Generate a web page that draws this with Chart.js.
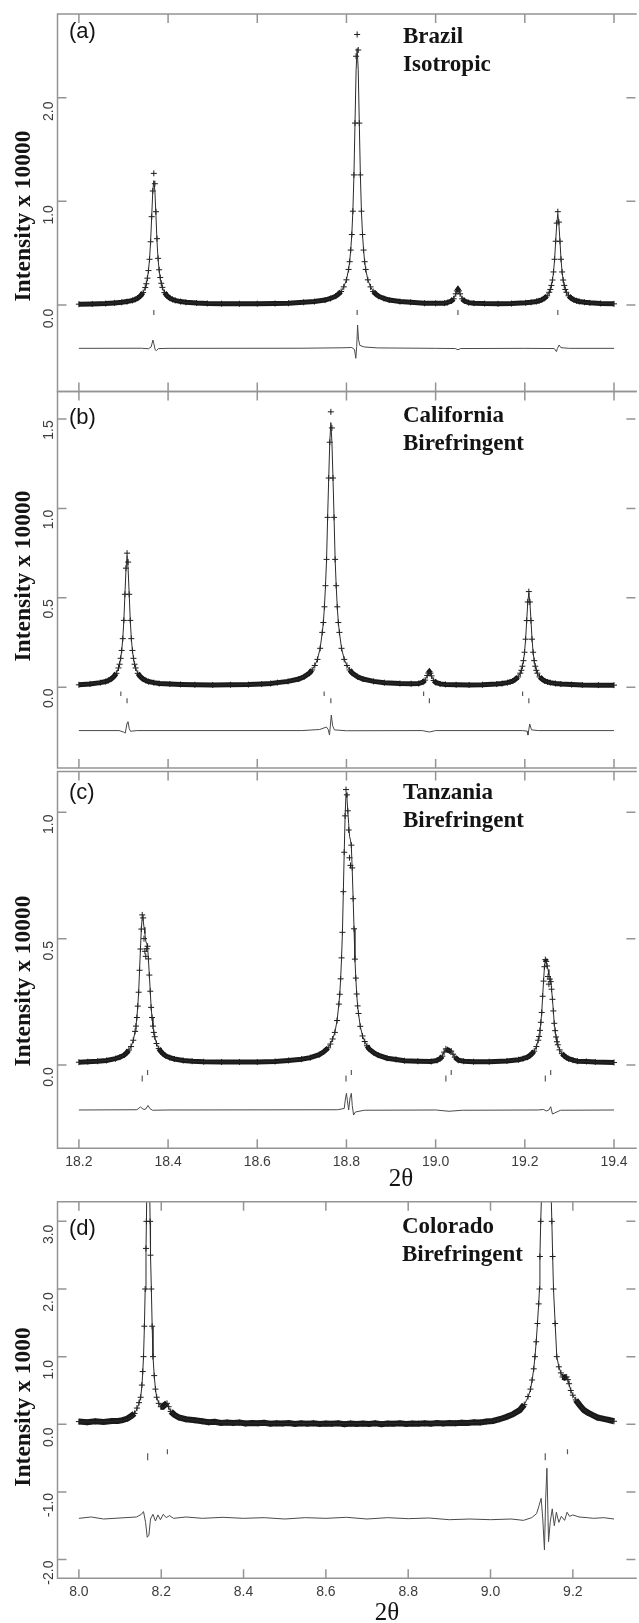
<!DOCTYPE html>
<html><head><meta charset="utf-8">
<script src="https://cdn.jsdelivr.net/npm/chart.js@4.4.1/dist/chart.umd.min.js"></script>
<style>
html,body{margin:0;padding:0;background:#fff;}
#wrap{position:relative;width:639px;height:1623px;overflow:hidden;background:#fff;}
canvas{position:absolute;left:0;top:0;}
</style></head><body>
<div id="wrap">
<canvas id="cA" width="639" height="1623"></canvas>
<canvas id="cB" width="639" height="1623"></canvas>
<canvas id="cC" width="639" height="1623"></canvas>
<canvas id="cD" width="639" height="1623"></canvas>
</div>
<script>
// ---------- Panel (a) Brazil ----------
const xA = [18.200,18.230,18.260,18.280,18.296,18.308,18.320,18.326,18.332,18.338,
18.344,18.3488,18.3512,18.3536,18.356,18.3584,18.3608,18.3632,18.3656,18.368,
18.3704,18.3728,18.3752,18.3776,18.380,18.3824,18.3848,18.3872,18.392,18.398,
18.404,18.410,18.416,18.428,18.440,18.464,18.488,18.520,18.560,18.600,
18.640,18.670,18.704,18.728,18.752,18.764,18.776,18.782,18.788,18.794,
18.800,18.8048,18.8072,18.8096,18.812,18.8144,18.8168,18.8192,18.8216,18.824,
18.8264,18.8288,18.8312,18.8336,18.836,18.8384,18.8408,18.8432,18.848,18.854,
18.860,18.866,18.872,18.884,18.896,18.920,18.944,18.975,19.000,19.020,
19.026,19.0356,19.0404,19.0452,19.0476,19.050,19.0524,19.0548,19.0596,19.0644,
19.074,19.086,19.110,19.140,19.170,19.202,19.214,19.226,19.232,19.238,
19.244,19.250,19.2548,19.2572,19.2596,19.262,19.2644,19.2668,19.2692,19.2716,
19.274,19.2764,19.2788,19.2812,19.2836,19.286,19.2884,19.2908,19.2932,19.298,
19.304,19.310,19.316,19.322,19.334,19.346,19.370,19.400];
const obsA = [.008,.010,.014,.020,.026,.033,.044,.053,.066,.087,
.120,.168,.205,.259,.332,.441,.610,.852,1.10,1.27,
1.17,.90,.64,.45,.34,.265,.21,.17,.120,.087,
.066,.053,.044,.033,.026,.019,.015,.013,.012,.013,
.014,.017,.026,.033,.048,.063,.085,.105,.130,.175,
.243,.343,.418,.53,.68,.905,1.255,1.755,2.40,2.61,
2.46,1.755,1.255,.905,.68,.53,.418,.343,.243,.175,
.130,.105,.085,.063,.048,.033,.026,.017,.016,.018,
.023,.039,.060,.108,.136,.150,.136,.108,.060,.039,
.023,.018,.014,.012,.014,.021,.026,.034,.041,.050,
.065,.089,.123,.150,.189,.241,.319,.441,.615,.79,
.90,.80,.615,.441,.319,.241,.189,.150,.123,.089,
.065,.050,.041,.034,.026,.021,.015,.011];
const calcA = [.008,.010,.014,.020,.026,.033,.044,.053,.066,.087,
.120,.168,.205,.259,.332,.441,.610,.85,1.09,1.20,
1.10,.86,.61,.44,.332,.259,.205,.168,.120,.087,
.066,.053,.044,.033,.026,.019,.015,.013,.012,.013,
.014,.017,.026,.033,.048,.063,.085,.105,.130,.175,
.243,.343,.418,.53,.68,.905,1.255,1.76,2.26,2.475,
2.27,1.76,1.255,.905,.68,.53,.418,.343,.243,.175,
.130,.105,.085,.063,.048,.033,.026,.017,.016,.018,
.023,.039,.060,.108,.136,.148,.136,.108,.060,.039,
.023,.018,.014,.012,.014,.021,.026,.034,.041,.050,
.065,.089,.123,.150,.189,.241,.319,.441,.615,.785,
.875,.785,.615,.441,.319,.241,.189,.150,.123,.089,
.065,.050,.041,.034,.026,.021,.015,.011];
const diffXA = [18.200,18.340,18.356,18.362,18.366,18.368,18.371,18.374,18.378,18.400,
18.700,18.790,18.812,18.818,18.821,18.823,18.825,18.827,18.830,18.840,18.870,
19.000,19.044,19.050,19.056,
19.200,19.266,19.271,19.273,19.277,19.281,19.300,19.400];
const diffA = [-0.418,-0.417,-0.422,-0.405,-0.338,-0.372,-0.432,-0.44,-0.421,-0.418,
-0.417,-0.413,-0.41,-0.43,-0.514,-0.40,-0.193,-0.33,-0.39,-0.405,-0.414,
-0.418,-0.42,-0.432,-0.42,
-0.418,-0.42,-0.45,-0.42,-0.386,-0.412,-0.418,-0.418];
const reflA = [18.368,18.824,19.050,19.274];
const reflLevelA = -0.072;

// ---------- Panel (b) California ----------
const xB = [18.200,18.225,18.248,18.260,18.266,18.272,18.278,18.284,18.2888,18.2912,
18.2936,18.296,18.2984,18.3008,18.3032,18.3056,18.308,18.3104,18.3128,18.3152,
18.3176,18.320,18.3224,18.3248,18.3272,18.332,18.338,18.344,18.350,18.356,
18.368,18.380,18.404,18.428,18.460,18.500,18.540,18.580,18.610,18.630,
18.645,18.669,18.693,18.705,18.717,18.723,18.729,18.735,18.741,18.7458,
18.7482,18.7506,18.753,18.7554,18.7578,18.7602,18.7626,18.765,18.7674,18.7698,
18.7722,18.7746,18.777,18.7794,18.7818,18.7842,18.789,18.795,18.801,18.807,
18.813,18.825,18.837,18.861,18.885,18.920,18.945,18.962,18.9716,18.9764,
18.9812,18.9836,18.986,18.9884,18.9908,18.9956,19.0004,19.010,19.022,19.046,
19.075,19.105,19.137,19.149,19.161,19.167,19.173,19.179,19.185,19.1898,
19.1922,19.1946,19.197,19.1994,19.2018,19.2042,19.2066,19.209,19.2114,19.2138,
19.2162,19.2186,19.221,19.2234,19.2258,19.2282,19.233,19.239,19.245,19.251,
19.257,19.269,19.281,19.305,19.329,19.365,19.400];
const obsB = [.014,.019,.026,.032,.038,.046,.059,.078,.108,.129,
.162,.206,.272,.374,.52,.666,.75,.70,.52,.374,
.272,.206,.162,.129,.108,.078,.059,.046,.038,.032,
.026,.021,.018,.016,.014,.013,.014,.015,.018,.021,
.026,.033,.046,.059,.079,.097,.122,.156,.218,.307,
.362,.45,.568,.715,.95,1.17,1.37,1.54,1.45,1.17,
.95,.715,.568,.45,.362,.307,.218,.156,.122,.097,
.079,.059,.046,.033,.026,.021,.020,.021,.029,.040,
.066,.080,.087,.079,.064,.038,.027,.019,.016,.014,
.013,.014,.018,.021,.026,.030,.035,.045,.058,.079,
.095,.118,.149,.196,.269,.373,.477,.535,.477,.373,
.269,.196,.149,.118,.095,.079,.058,.045,.035,.030,
.026,.021,.018,.015,.013,.012,.012];
const calcB = [.014,.019,.026,.032,.038,.046,.059,.078,.108,.129,
.162,.206,.272,.374,.52,.66,.735,.66,.52,.374,
.272,.206,.162,.129,.108,.078,.059,.046,.038,.032,
.026,.021,.018,.016,.014,.013,.014,.015,.018,.021,
.026,.033,.046,.059,.079,.097,.122,.156,.218,.307,
.362,.45,.568,.715,.95,1.17,1.37,1.48,1.37,1.17,
.95,.715,.568,.45,.362,.307,.218,.156,.122,.097,
.079,.059,.046,.033,.026,.021,.020,.021,.029,.040,
.066,.080,.085,.079,.064,.038,.027,.019,.016,.014,
.013,.014,.018,.021,.026,.030,.035,.045,.058,.079,
.095,.118,.149,.196,.269,.373,.475,.528,.475,.373,
.269,.196,.149,.118,.095,.079,.058,.045,.035,.030,
.026,.021,.018,.015,.013,.012,.012];
const diffXB = [18.200,18.290,18.300,18.304,18.308,18.310,18.313,18.316,18.330,
18.700,18.740,18.755,18.759,18.762,18.766,18.769,18.773,18.800,
18.970,18.986,19.000,
19.195,19.205,19.207,19.211,19.215,19.230,19.400];
const diffB = [-0.242,-0.242,-0.25,-0.256,-0.20,-0.192,-0.232,-0.246,-0.242,
-0.242,-0.236,-0.222,-0.235,-0.267,-0.155,-0.215,-0.238,-0.243,
-0.242,-0.25,-0.242,
-0.242,-0.245,-0.267,-0.205,-0.238,-0.242,-0.242];
const reflB1 = [18.294,18.750,18.973,19.195];
const reflLevelB1 = -0.036;
const reflB2 = [18.308,18.765,18.986,19.209];
const reflLevelB2 = -0.075;

// ---------- Panel (c) Tanzania ----------
const xC = [18.200,18.220,18.242,18.262,18.282,18.292,18.302,18.307,18.312,18.317,
18.322,18.326,18.328,18.330,18.332,18.334,18.336,18.338,18.340,18.342,
18.344,18.346,18.348,18.350,18.352,18.354,18.356,18.358,18.360,18.362,
18.364,18.366,18.368,18.370,18.374,18.379,18.384,18.389,18.394,18.404,
18.414,18.434,18.454,18.480,18.520,18.560,18.600,18.640,18.670,18.699,
18.719,18.739,18.749,18.759,18.764,18.769,18.774,18.779,18.783,18.785,
18.787,18.789,18.791,18.793,18.795,18.797,18.799,18.801,18.803,18.805,
18.807,18.809,18.811,18.813,18.815,18.817,18.819,18.821,18.823,18.825,
18.827,18.831,18.836,18.841,18.846,18.851,18.861,18.871,18.891,18.911,
18.930,18.960,18.990,19.003,19.011,19.015,19.019,19.023,19.027,19.031,
19.035,19.039,19.043,19.051,19.063,19.085,19.120,19.160,19.186,19.196,
19.206,19.211,19.216,19.221,19.226,19.230,19.232,19.234,19.236,19.238,
19.240,19.242,19.244,19.246,19.248,19.250,19.252,19.254,19.256,19.258,
19.260,19.262,19.264,19.266,19.268,19.270,19.272,19.274,19.278,19.283,
19.288,19.293,19.298,19.308,19.318,19.338,19.358,19.400];
const obsC = [.011,.013,.015,.018,.025,.031,.040,.048,.059,.073,
.098,.133,.154,.188,.233,.288,.375,.459,.538,.594,
.582,.50,.45,.43,.46,.47,.42,.356,.292,.228,
.188,.154,.129,.112,.085,.065,.053,.044,.037,.029,
.024,.018,.015,.013,.012,.012,.012,.014,.018,.023,
.029,.041,.052,.068,.083,.103,.129,.176,.241,.280,
.341,.424,.525,.686,.842,.986,1.09,1.069,1.006,.93,
.82,.79,.87,.78,.658,.539,.419,.344,.281,.234,
.204,.153,.115,.093,.076,.063,.049,.039,.027,.022,
.017,.015,.014,.018,.026,.035,.051,.064,.060,.056,
.055,.043,.031,.019,.015,.013,.013,.016,.021,.025,
.031,.037,.045,.055,.073,.098,.113,.137,.169,.208,
.272,.332,.389,.417,.41,.392,.35,.32,.34,.33,
.30,.26,.214,.165,.136,.111,.092,.080,.060,.045,
.037,.030,.025,.019,.015,.014,.012,.010];
const calcC = [.011,.013,.015,.018,.025,.031,.040,.048,.059,.073,
.098,.133,.154,.188,.233,.288,.375,.459,.538,.585,
.575,.545,.52,.49,.48,.47,.415,.356,.292,.228,
.188,.154,.129,.112,.085,.065,.053,.044,.037,.029,
.024,.018,.015,.013,.012,.012,.012,.014,.018,.023,
.029,.041,.052,.068,.083,.103,.129,.176,.241,.280,
.341,.424,.525,.686,.842,.986,1.075,1.06,1.006,.955,
.905,.89,.865,.77,.658,.539,.419,.344,.281,.234,
.204,.153,.115,.093,.076,.063,.049,.039,.027,.022,
.017,.015,.014,.018,.026,.035,.051,.064,.060,.056,
.055,.043,.031,.019,.015,.013,.013,.016,.021,.025,
.031,.037,.045,.055,.073,.098,.113,.137,.169,.208,
.272,.332,.389,.41,.41,.392,.378,.356,.352,.345,
.30,.26,.214,.165,.136,.111,.092,.080,.060,.045,
.037,.030,.025,.019,.015,.014,.012,.010];
const diffXC = [18.200,18.330,18.338,18.342,18.346,18.350,18.355,18.359,18.365,18.400,
18.780,18.795,18.798,18.800,18.802,18.805,18.808,18.811,18.813,18.816,18.820,18.840,
19.000,19.030,19.060,
19.230,19.242,19.248,19.254,19.258,19.262,19.280,19.400];
const diffC = [-0.178,-0.177,-0.166,-0.172,-0.176,-0.174,-0.160,-0.172,-0.179,-0.178,
-0.177,-0.172,-0.13,-0.112,-0.14,-0.178,-0.13,-0.112,-0.16,-0.198,-0.186,-0.179,
-0.178,-0.183,-0.179,
-0.178,-0.176,-0.182,-0.178,-0.165,-0.194,-0.179,-0.178];
const reflC1 = [18.342,18.799,19.023,19.246];
const reflLevelC1 = -0.053;
const reflC2 = [18.354,18.811,19.035,19.258];
const reflLevelC2 = -0.030;

// ---------- Panel (d) Colorado ----------
const xD = [8.000,8.020,8.040,8.060,8.080,8.095,8.106,8.118,8.128,8.135,
8.141,8.146,8.150,8.153,8.155,8.157,8.159,8.161,8.163,8.164,
8.166,8.168,8.171,8.173,8.174,8.176,8.178,8.180,8.183,8.186,
8.189,8.194,8.199,8.204,8.209,8.214,8.218,8.223,8.232,8.243,
8.260,8.282,8.300,8.315,8.330,8.345,8.360,8.375,8.390,8.405,
8.420,8.435,8.450,8.465,8.480,8.495,8.510,8.525,8.540,8.555,
8.570,8.585,8.600,8.615,8.630,8.645,8.660,8.675,8.690,8.705,
8.720,8.735,8.750,8.765,8.780,8.795,8.810,8.825,8.840,8.855,
8.870,8.885,8.900,8.915,8.930,8.945,8.960,8.975,8.990,9.006,
9.022,9.039,9.055,9.071,9.082,9.091,9.097,9.101,9.105,9.108,
9.111,9.114,9.117,9.119,9.120,9.122,9.125,9.130,9.135,9.140,
9.145,9.149,9.151,9.153,9.157,9.161,9.166,9.171,9.175,9.180,
9.185,9.188,9.191,9.195,9.200,9.207,9.217,9.227,9.237,9.247,
9.260,9.275,9.288,9.300];
const obsD = [.040,.030,.045,.034,.050,.048,.062,.085,.125,.160,
.240,.320,.400,.580,.780,1.00,1.45,2.00,2.60,3.00,
3.80,4.30,3.80,3.00,2.50,2.00,1.45,1.00,.72,.52,
.40,.31,.26,.26,.29,.31,.26,.19,.14,.10,
.075,.060,.045,.030,.036,.020,.028,.018,.026,.012,
.020,.014,.022,.008,.016,.012,.018,.006,.014,.010,
.016,.004,.012,.008,.014,.002,.012,.006,.010,.004,
.014,.002,.010,.008,.014,.004,.012,.010,.016,.008,
.018,.012,.020,.016,.024,.020,.030,.028,.040,.050,
.075,.110,.150,.210,.290,.410,.520,.655,.820,1.00,
1.22,1.49,1.78,2.00,2.48,3.00,3.60,4.30,4.60,4.40,
3.80,3.00,2.48,2.00,1.49,1.00,.85,.76,.70,.69,
.70,.66,.60,.50,.43,.36,.28,.21,.17,.14,
.10,.080,.064,.045];
const calcD = [.035,.036,.038,.040,.045,.050,.058,.075,.105,.150,
.230,.310,.400,.560,.760,1.00,1.42,1.98,2.60,3.00,
3.90,4.50,3.90,3.00,2.50,2.00,1.45,1.00,.72,.52,
.40,.31,.26,.25,.27,.29,.25,.19,.14,.10,
.075,.058,.045,.036,.030,.026,.023,.021,.019,.018,
.017,.016,.015,.014,.013,.012,.012,.011,.011,.010,
.010,.010,.010,.010,.010,.010,.010,.010,.010,.010,
.010,.010,.010,.010,.011,.011,.012,.012,.013,.014,
.015,.016,.017,.019,.021,.023,.026,.030,.036,.050,
.072,.108,.150,.210,.290,.400,.510,.650,.820,1.00,
1.22,1.49,1.78,2.00,2.48,3.00,3.60,4.40,4.80,4.60,
3.90,3.00,2.48,2.00,1.49,1.00,.85,.76,.70,.68,
.68,.65,.59,.50,.43,.36,.28,.21,.17,.14,
.10,.078,.062,.048];
const diffXD = [8.000,8.030,8.060,8.100,8.140,8.152,8.157,8.162,8.166,8.170,
8.174,8.180,8.186,8.192,8.198,8.205,8.212,8.220,8.230,8.260,
8.300,8.350,8.400,8.450,8.500,8.550,8.600,8.650,8.700,8.750,
8.800,8.850,8.900,8.950,9.000,9.050,9.080,9.100,9.112,9.118,
9.123,9.127,9.131,9.134,9.137,9.141,9.145,9.150,9.155,9.160,
9.166,9.172,9.180,9.186,9.192,9.200,9.215,9.235,9.250,9.275,
9.300];
const diffD = [-1.39,-1.37,-1.40,-1.385,-1.37,-1.33,-1.29,-1.45,-1.67,-1.64,
-1.40,-1.33,-1.43,-1.34,-1.41,-1.33,-1.38,-1.35,-1.39,-1.37,
-1.39,-1.375,-1.39,-1.38,-1.40,-1.38,-1.39,-1.375,-1.40,-1.38,
-1.395,-1.385,-1.41,-1.40,-1.41,-1.40,-1.42,-1.38,-1.32,-1.20,
-1.094,-1.40,-1.857,-1.10,-0.65,-1.734,-1.45,-1.25,-1.50,-1.30,
-1.45,-1.36,-1.42,-1.30,-1.36,-1.34,-1.37,-1.38,-1.39,-1.38,
-1.40];
const reflD1 = [8.167,9.133];
const reflLevelD1 = -0.48;
const reflD2 = [8.215,9.187];
const reflLevelD2 = -0.405;

// ---------- axis tick values ----------
const xTicks1 = [18.2,18.4,18.6,18.8,19.0,19.2,19.4];
const xTicks2 = [8.0,8.2,8.4,8.6,8.8,9.0,9.2];
const yTicksA = [0.0,1.0,2.0];
const yTicksB = [0.0,0.5,1.0,1.5];
const yTicksC = [0.0,0.5,1.0];
const yTicksD = [-2.0,-1.0,0.0,1.0,2.0,3.0];

const SANS = '"Liberation Sans", Arial, Helvetica, sans-serif';
const SERIF = '"Liberation Serif", "Times New Roman", Times, serif';

function pts(xs, ys) { return xs.map((x, i) => ({x: x, y: ys[i]})); }
function rowPts(xs, level) { return xs.map(x => ({x: x, y: level})); }
const steep = c => {
  const dx = Math.abs(c.p1.x - c.p0.x), dy = Math.abs(c.p1.y - c.p0.y);
  return dy > 1.5 * dx && dy > 2.5;
};

function decorations(p) {
  return {
    id: 'deco' + p.id,
    afterDraw(chart) {
      const ctx = chart.ctx, a = chart.chartArea, xs = chart.scales.x, ys = chart.scales.y;
      ctx.save();
      ctx.strokeStyle = '#949494';
      ctx.lineWidth = 1.5;
      ctx.beginPath();
      ctx.moveTo(a.left, a.top); ctx.lineTo(a.right + 3, a.top);
      ctx.moveTo(a.left, a.bottom); ctx.lineTo(a.right + 3, a.bottom);
      ctx.moveTo(a.left, a.top - 0.75); ctx.lineTo(a.left, a.bottom + 0.75);
      p.xTicks.forEach(v => {
        const x = xs.getPixelForValue(v);
        ctx.moveTo(x, a.top); ctx.lineTo(x, a.top + 9);
        ctx.moveTo(x, a.bottom); ctx.lineTo(x, a.bottom - 9);
      });
      p.yTicks.forEach(v => {
        const y = ys.getPixelForValue(v);
        ctx.moveTo(a.left, y); ctx.lineTo(a.left + 9, y);
        ctx.moveTo(a.right + 1.6, y); ctx.lineTo(a.right - 7.4, y);
      });
      ctx.stroke();
      ctx.fillStyle = '#3c3c3c';
      ctx.font = '14px ' + SANS;
      ctx.textAlign = 'center';
      ctx.textBaseline = 'alphabetic';
      p.yTicks.forEach(v => {
        const y = ys.getPixelForValue(v) + p.yLabOff;
        ctx.save(); ctx.translate(53, y); ctx.rotate(-Math.PI / 2);
        ctx.fillText(v.toFixed(1), 0, 0); ctx.restore();
      });
      if (p.xLabY) {
        p.xTicks.forEach(v => ctx.fillText(v.toFixed(1), xs.getPixelForValue(v), p.xLabY));
      }
      p.texts.forEach(t => {
        ctx.fillStyle = '#141414';
        ctx.font = t.f;
        ctx.textAlign = t.al || 'left';
        if (t.rot) {
          ctx.save(); ctx.translate(t.x, t.y); ctx.rotate(-Math.PI / 2);
          ctx.textAlign = 'center'; ctx.fillText(t.t, 0, 0); ctx.restore();
        } else {
          ctx.fillText(t.t, t.x, t.y);
        }
      });
      ctx.restore();
    }
  };
}

function makeChart(canvasId, p) {
  const datasets = [
    {label: 'calc', data: pts(p.x, p.calc), borderColor: '#2b2b2b', borderWidth: 1, pointRadius: 0, order: 0},
    {label: 'obs', data: pts(p.x, p.obs), borderColor: '#1a1a1a', borderWidth: p.band,
     pointStyle: 'cross', pointRadius: 3, pointBorderWidth: 1, pointBorderColor: '#1a1a1a', pointBackgroundColor: '#1a1a1a',
     order: 1,
     segment: {
       borderColor: c => steep(c) ? 'rgba(0,0,0,0)' : '#1a1a1a',
       borderWidth: c => steep(c) ? 1 : p.band
     }},
    {label: 'diff', data: pts(p.dx, p.diff), borderColor: '#4a4a4a', borderWidth: 1, pointRadius: 0, order: 2}
  ];
  p.rows.forEach(r => datasets.push({
    label: 'refl', data: rowPts(r.x, r.y), showLine: false, pointStyle: 'line', pointRotation: 90,
    pointRadius: r.len / 2, pointBorderWidth: 1.2, pointBorderColor: '#5a5a5a', order: 3
  }));
  new Chart(document.getElementById(canvasId), {
    type: 'line',
    data: {datasets: datasets},
    options: {
      responsive: false, animation: false, devicePixelRatio: 1, events: [],
      layout: {padding: {left: 57.5, right: 0, top: p.top, bottom: 1623 - p.bottom}},
      scales: {
        x: {type: 'linear', display: false, min: p.xmin, max: p.xmax},
        y: {type: 'linear', display: false, min: p.ymin, max: p.ymax}
      },
      plugins: {legend: {display: false}, tooltip: {enabled: false}}
    },
    plugins: [decorations(p)]
  });
}

const TITLE = 'bold 23px ' + SERIF;
const YTITLE = 'bold 23.5px ' + SERIF;
const PLAB = '22px ' + SANS;

makeChart('cA', {id: 'A', x: xA, obs: obsA, calc: calcA, dx: diffXA, diff: diffA, band: 5,
  rows: [{x: reflA, y: reflLevelA, len: 5}],
  top: 14, bottom: 391.5, xmin: 18.152, xmax: 19.4444, ymin: -0.8345, ymax: 2.8075,
  xTicks: xTicks1, yTicks: yTicksA, yLabOff: 13.5, xLabY: null,
  texts: [
    {t: '(a)', x: 69, y: 38, f: PLAB},
    {t: 'Brazil', x: 403, y: 43, f: TITLE},
    {t: 'Isotropic', x: 403, y: 70.5, f: TITLE},
    {t: 'Intensity x 10000', x: 29.5, y: 216, f: YTITLE, rot: true}
  ]});

makeChart('cB', {id: 'B', x: xB, obs: obsB, calc: calcB, dx: diffXB, diff: diffB, band: 5,
  rows: [{x: reflB1, y: reflLevelB1, len: 4.5}, {x: reflB2, y: reflLevelB2, len: 5}],
  top: 391.5, bottom: 768, xmin: 18.152, xmax: 19.4444, ymin: -0.4512, ymax: 1.6537,
  xTicks: xTicks1, yTicks: yTicksB, yLabOff: 11, xLabY: null,
  texts: [
    {t: '(b)', x: 69, y: 423.5, f: PLAB},
    {t: 'California', x: 403, y: 422.3, f: TITLE},
    {t: 'Birefringent', x: 403, y: 450, f: TITLE},
    {t: 'Intensity x 10000', x: 29.5, y: 576, f: YTITLE, rot: true}
  ]});

makeChart('cC', {id: 'C', x: xC, obs: obsC, calc: calcC, dx: diffXC, diff: diffC, band: 5,
  rows: [{x: reflC1, y: reflLevelC1, len: 6}, {x: reflC2, y: reflLevelC2, len: 5}],
  top: 771.5, bottom: 1148.3, xmin: 18.152, xmax: 19.4444, ymin: -0.3296, ymax: 1.1615,
  xTicks: xTicks1, yTicks: yTicksC, yLabOff: 12, xLabY: 1165.5,
  texts: [
    {t: '(c)', x: 69, y: 798.5, f: PLAB},
    {t: 'Tanzania', x: 403, y: 799.3, f: TITLE},
    {t: 'Birefringent', x: 403, y: 826.7, f: TITLE},
    {t: 'Intensity x 10000', x: 29.5, y: 981, f: YTITLE, rot: true},
    {t: '2θ', x: 401, y: 1186, f: '25px ' + SERIF, al: 'center'}
  ]});

makeChart('cD', {id: 'D', x: xD, obs: obsD, calc: calcD, dx: diffXD, diff: diffD, band: 6,
  rows: [{x: reflD1, y: reflLevelD1, len: 7}, {x: reflD2, y: reflLevelD2, len: 5}],
  top: 1201.7, bottom: 1578.3, xmin: 7.948, xmax: 9.3481, ymin: -2.2764, ymax: 3.2905,
  xTicks: xTicks2, yTicks: yTicksD, yLabOff: 13, xLabY: 1596,
  texts: [
    {t: '(d)', x: 69, y: 1235, f: PLAB},
    {t: 'Colorado', x: 402, y: 1233.3, f: TITLE},
    {t: 'Birefringent', x: 402, y: 1261, f: TITLE},
    {t: 'Intensity x 1000', x: 29.5, y: 1407, f: YTITLE, rot: true},
    {t: '2θ', x: 387, y: 1620, f: '25px ' + SERIF, al: 'center'}
  ]});
</script>
</body></html>
